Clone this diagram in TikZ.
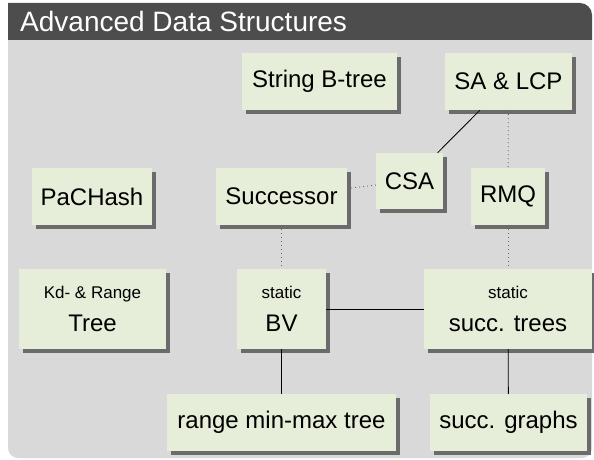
\documentclass[tikz,border=0pt]{standalone}
\usepackage{fontspec}
\setmainfont{Liberation Sans}
\usetikzlibrary{shadows}

\definecolor{headgray}{RGB}{77,77,77}
\definecolor{bodygray}{RGB}{217,217,217}
\definecolor{boxfill}{RGB}{230,237,217}

\newcommand{\titlesz}{\fontsize{28}{32}\selectfont}
\newcommand{\bigsz}{\fontsize{24}{29}\selectfont}
\newcommand{\smallsz}{\fontsize{17}{20}\selectfont}

\tikzset{
	ds/.style={fill=boxfill, font=\bigsz, inner sep=0pt, align=center,
		minimum height=57pt,
		drop shadow={shadow xshift=4pt, shadow yshift=-4pt, fill=black!58, opacity=1}},
	tall/.style={minimum height=80pt},
	link/.style={line width=0.8pt},
	weaklink/.style={line width=0.8pt, black!60, dash pattern=on 1pt off 3pt},
}

\begin{document}
\begin{tikzpicture}[x=1pt, y=-1pt]
			\useasboundingbox (0,0) rectangle (594,460);

			% Rahmen
			\fill[bodygray] (8,40) {[rounded corners=10pt] -- (8,458) -- (592,458)} -- (592,40) -- cycle;
			\fill[headgray] (8,40) -- (8,3) {[rounded corners=12pt] -- (592,3)} -- (592,40) -- cycle;
			\node[anchor=base west, inner sep=0pt, text=white, font=\titlesz] (title) at (20,32) {Advanced Data Structures};

			% Knoten
			\node[ds, minimum width=155pt] (sbtree) at (319.5,81.5) {String B-tree};
			\node[ds, minimum width=127pt] (salcp) at (508.5,81.5) {SA \& LCP};
			\node[ds, minimum width=67pt, minimum height=56pt] (csa) at (409.5,181) {CSA};
			\node[ds, minimum width=74pt] (rmq) at (508,196.5) {RMQ};
			\node[ds, minimum width=131pt] (succ) at (281.5,196.5) {Successor};
			\node[ds, minimum width=120pt] (pachash) at (92,196.5) {PaCHash};
			\node[ds, tall, minimum width=147pt] (kdtree) at (92.5,309) {{\smallsz Kd- \& Range}\\[4pt]Tree};
			\node[ds, tall, minimum width=89pt] (bv) at (281.5,309) {{\smallsz static}\\[4pt]BV};
			\node[ds, tall, minimum width=168pt] (strees) at (508,309) {{\smallsz static}\\[4pt]succ. trees};
			\node[ds, minimum width=229pt] (rmmtree) at (281.5,422.5) {range min-max tree};
			\node[ds, minimum width=157pt] (sgraphs) at (508.5,422.5) {succ. graphs};

			% Kanten
			\draw[link] (salcp) -- (csa);
			\draw[weaklink] (succ) -- (csa);
			\draw[weaklink] (salcp) -- (rmq);
			\draw[weaklink] (rmq) -- (strees);
			\draw[weaklink] (succ) -- (bv);
			\draw[link] (bv) -- (strees);
			\draw[link] (bv) -- (rmmtree);
			\draw[link] (strees) -- (sgraphs);
		\end{tikzpicture}
\end{document}
